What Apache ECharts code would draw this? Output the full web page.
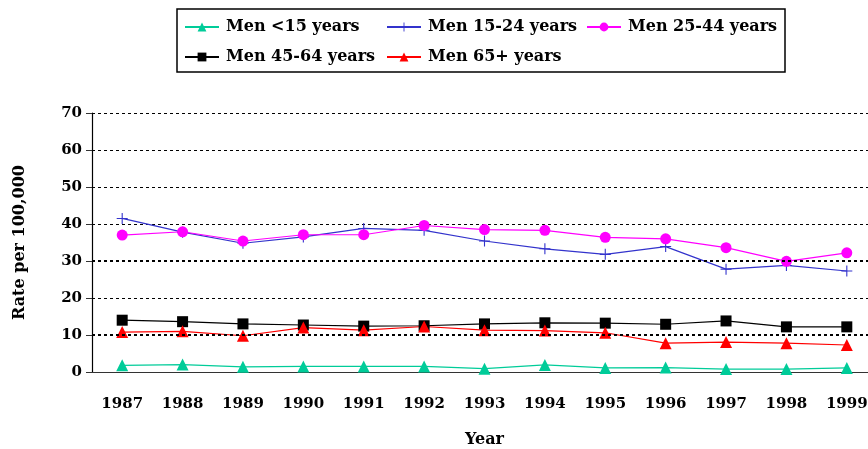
<!DOCTYPE html>
<html><head><meta charset="utf-8">
<script src="https://cdn.jsdelivr.net/npm/echarts@6/dist/echarts.min.js"></script>
<style>html,body{margin:0;padding:0;background:#fff}#c{width:868px;height:449px}</style>
</head><body><div id="c"></div>
<script>
const years = ['1987','1988','1989','1990','1991','1992','1993','1994','1995','1996','1997','1998','1999'];
const menUnder15 = [1.8, 2.0, 1.4, 1.5, 1.5, 1.5, 0.9, 1.9, 1.1, 1.2, 0.8, 0.8, 1.1];
const men15to24 = [41.5, 37.8, 34.8, 36.5, 38.8, 38.3, 35.4, 33.3, 31.8, 33.9, 27.8, 28.8, 27.3];
const men25to44 = [37.0, 37.9, 35.4, 37.1, 37.1, 39.6, 38.5, 38.3, 36.4, 36.0, 33.6, 29.9, 32.2];
const men45to64 = [14.0, 13.6, 13.0, 12.7, 12.4, 12.5, 13.0, 13.3, 13.2, 12.9, 13.8, 12.2, 12.2];
const men65plus = [10.8, 11.0, 9.8, 12.0, 11.3, 12.3, 11.3, 11.2, 10.6, 7.8, 8.1, 7.8, 7.3];
const seriesNames = ['Men <15 years','Men 15-24 years','Men 25-44 years','Men 45-64 years','Men 65+ years'];
const yTicks = [0,10,20,30,40,50,60,70];

const FONT = 'DejaVu Serif';
const plus = 'path://M4.5,0h1v4.5h4.5v1h-4.5v4.5h-1v-4.5h-4.5v-1h4.5z';
const chart = echarts.init(document.getElementById('c'));
const legendPos = [[184,19],[386,19],[586,19],[184,49],[386,49]];
const legends = seriesNames.map((n,i)=>({
  data:[n], left:legendPos[i][0], top:legendPos[i][1], padding:0,
  itemWidth:34, itemHeight:11, itemGap:0,
  textStyle:{fontFamily:FONT, fontWeight:'bold', fontSize:16, color:'#000', padding:[0,0,0,2]}
}));
const mk = (name, data, color, symbol, size, extra) => Object.assign({
  name, type:'line', data, symbol, symbolSize:size,
  lineStyle:{color, width:1.2}, itemStyle:{color},
  animation:false
}, extra||{});
chart.setOption({
  animation:false,
  legend: legends,
  graphic:[{type:'rect', shape:{x:177,y:9,width:608,height:63}, style:{fill:'none', stroke:'#000', lineWidth:1.5}}],
  grid:{left:92, right:-9, top:113, bottom:77, outerBoundsMode:'none', containLabel:false},
  xAxis:{type:'category', data:years, boundaryGap:true,
    axisLine:{lineStyle:{color:'#333', width:1.2}},
    axisTick:{length:6, lineStyle:{color:'#333'}},
    axisLabel:{fontFamily:FONT, fontWeight:'bold', fontSize:15, color:'#000', margin:25},
    name:'Year', nameLocation:'middle', nameGap:60,
    nameTextStyle:{fontFamily:FONT, fontWeight:'bold', fontSize:16, color:'#000'}
  },
  yAxis:{type:'value', min:yTicks[0], max:yTicks[yTicks.length-1], interval:10,
    axisLine:{show:true, lineStyle:{color:'#000', width:1.2}},
    axisTick:{show:true, length:6, lineStyle:{color:'#333'}},
    axisLabel:{fontFamily:FONT, fontWeight:'bold', fontSize:15, color:'#000', margin:10},
    splitLine:{lineStyle:{color:'#000', type:[3,3], width:1}},
    name:'Rate per 100,000', nameLocation:'middle', nameGap:64, nameRotate:90,
    nameTextStyle:{fontFamily:FONT, fontWeight:'bold', fontSize:16, color:'#000'}
  },
  series:[
    mk(seriesNames[0], menUnder15, '#00CC99', 'triangle', 12, {
      markLine:{silent:true, symbol:'none', label:{show:false},
        lineStyle:{color:'#000', type:[3,3], width:2.2},
        data:[{yAxis:10},{yAxis:30}]}
    }),
    mk(seriesNames[1], men15to24, '#3333CC', plus, 11),
    mk(seriesNames[2], men25to44, '#FF00FF', 'circle', 11),
    mk(seriesNames[3], men45to64, '#000000', 'rect', 11),
    mk(seriesNames[4], men65plus, '#FF0000', 'triangle', 12)
  ]
});
</script></body></html>
